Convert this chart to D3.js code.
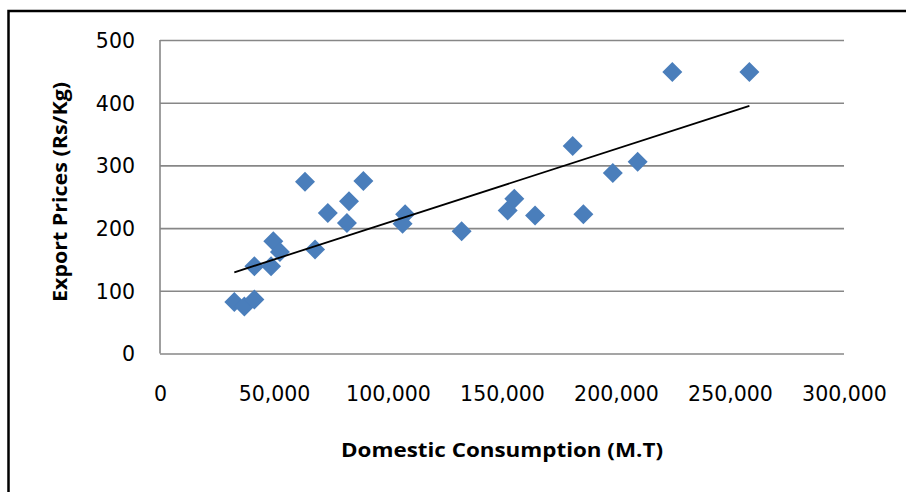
<!DOCTYPE html>
<html>
<head>
<meta charset="utf-8">
<script src="https://cdn.jsdelivr.net/npm/d3@7"></script>
<style>
  body { margin: 0; background: #fff; }
  svg { display: block; }
  .tick text { font-family: "DejaVu Sans", sans-serif; font-size: 20.5px; fill: #000; }
  .axis-title { font-family: "Open Sans", "DejaVu Sans", sans-serif; font-weight: bold; font-size: 20px; fill: #000; }
</style>
</head>
<body>
<div id="chart"></div>
<script>
// Domestic consumption (M.T) vs export price (Rs/Kg)
const consumption = [32600, 37000, 41400, 41400, 48700, 49700, 52600, 63600, 68000, 73600,
  82900, 82000, 89200, 107500, 106400, 132300, 152500, 155400, 164500, 181000,
  185700, 198600, 209500, 224700, 258500];
const price = [82, 75, 86, 139, 139, 179, 162, 274, 166, 224,
  243, 208, 275, 222, 207, 195, 228, 247, 220, 331,
  222, 288, 306, 449, 449];
const xTicks = [0, 50000, 100000, 150000, 200000, 250000, 300000];
const yTicks = [0, 100, 200, 300, 400, 500];

const svgWidth = 906;
const svgHeight = 492;
const margin = { top: 40, right: 62, bottom: 138.5, left: 160 };
const width = svgWidth - margin.left - margin.right;
const height = svgHeight - margin.top - margin.bottom;

const svg = d3.select("#chart")
  .append("svg")
  .attr("width", svgWidth)
  .attr("height", svgHeight);

// outer frame, cropped at right and bottom
svg.append("rect")
  .attr("x", 8.5)
  .attr("y", 11)
  .attr("width", 1000)
  .attr("height", 1000)
  .attr("fill", "none")
  .attr("stroke", "#000")
  .attr("stroke-width", 2.5);

const chartGroup = svg.append("g")
  .attr("transform", `translate(${margin.left}, ${margin.top})`);

const x = d3.scaleLinear().domain([0, 300000]).range([0, width]);
const y = d3.scaleLinear().domain([0, 500]).range([height, 0]);

// gridlines + y labels
const yAxis = chartGroup.append("g")
  .call(d3.axisLeft(y).tickValues(yTicks).tickSize(-width).tickPadding(25).tickFormat(d3.format("d")));
yAxis.select(".domain").remove();
yAxis.selectAll(".tick line").attr("stroke", "#878787").attr("stroke-width", 1.6);
yAxis.selectAll(".tick text").attr("dy", "0.36em");

// left axis line
chartGroup.append("line")
  .attr("x1", 0).attr("x2", 0)
  .attr("y1", 0).attr("y2", height)
  .attr("stroke", "#878787")
  .attr("stroke-width", 1.6);

// x labels (no tick marks)
const xAxis = chartGroup.append("g")
  .attr("transform", `translate(0, ${height})`)
  .call(d3.axisBottom(x).tickValues(xTicks).tickSize(0).tickPadding(33).tickFormat(d3.format(",")));
xAxis.select(".domain").remove();

// linear trendline (least squares)
const mx = d3.mean(consumption), my = d3.mean(price);
let sxy = 0, sxx = 0;
consumption.forEach((v, i) => {
  sxy += (v - mx) * (price[i] - my);
  sxx += (v - mx) * (v - mx);
});
const slope = sxy / sxx;
const intercept = my - slope * mx;
const [x0, x1] = d3.extent(consumption);

// markers
chartGroup.selectAll("path.pt")
  .data(consumption)
  .enter()
  .append("path")
  .attr("class", "pt")
  .attr("d", "M0,-10L10,0L0,10L-10,0Z")
  .attr("transform", (d, i) => `translate(${x(d)}, ${y(price[i])})`)
  .attr("fill", "#4a7ebb");

chartGroup.append("line")
  .attr("x1", x(x0)).attr("y1", y(intercept + slope * x0))
  .attr("x2", x(x1)).attr("y2", y(intercept + slope * x1))
  .attr("stroke", "#000")
  .attr("stroke-width", 1.8);

// axis titles
svg.append("text")
  .attr("class", "axis-title")
  .attr("x", 502)
  .attr("y", 457)
  .attr("text-anchor", "middle")
  .attr("textLength", 322)
  .attr("lengthAdjust", "spacingAndGlyphs")
  .text("Domestic Consumption (M.T)");

svg.append("text")
  .attr("class", "axis-title")
  .attr("transform", "translate(67, 192) rotate(-90)")
  .attr("text-anchor", "middle")
  .attr("textLength", 220)
  .attr("lengthAdjust", "spacingAndGlyphs")
  .text("Export Prices (Rs/Kg)");
</script>
</body>
</html>
